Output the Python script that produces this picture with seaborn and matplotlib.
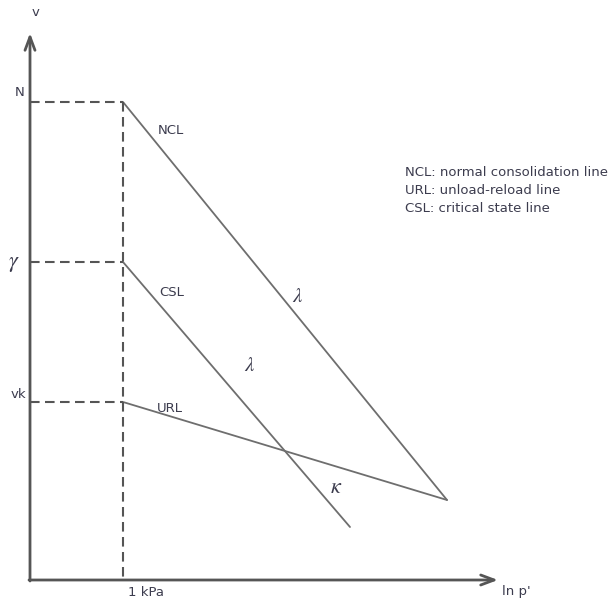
import matplotlib
matplotlib.use("Agg")
import matplotlib.pyplot as plt
import seaborn as sns
import pandas as pd

sns.set_theme(style="white")
plt.rcParams['font.family'] = ['DejaVu Sans']
plt.rcParams['mathtext.fontset'] = 'stix'

# Schematic coordinates (x: ln p', y: v as drawn, y grows downward)
line_names = ["NCL", "CSL", "URL"]
line_x0 = [123, 123, 123]
line_y0 = [102, 262, 402]
line_x1 = [447, 350, 447]
line_y1 = [500, 527, 500]

level_labels = ["N", r"$\gamma$", "vk"]
level_y = [102, 262, 402]
ref_x = 123          # 1 kPa
origin = (30, 580)
axis_end_x = 498
axis_end_y = 33

legend_lines = ["NCL: normal consolidation line",
                "URL: unload-reload line",
                "CSL: critical state line"]

fig = plt.figure(figsize=(6.16, 6.03), dpi=100)
ax = fig.add_axes([0, 0, 1, 1])
ax.set_xlim(0, 616)
ax.set_ylim(603, 0)
ax.axis("off")

lc = "#6e6e6e"
tc = "#3c3c4e"
dc = "#555555"

rows = []
for n, a, b, c, d in zip(line_names, line_x0, line_y0, line_x1, line_y1):
    rows.append(dict(name=n, x=a, y=b))
    rows.append(dict(name=n, x=c, y=d))
df = pd.DataFrame(rows)
sns.lineplot(data=df, x="x", y="y", units="name", estimator=None, sort=False,
             color=lc, lw=1.3, ax=ax, legend=False)

# dashed reference lines
dash = (0, (4.6, 2.6))
for yv in level_y:
    ax.plot([origin[0], ref_x], [yv, yv], color=dc, lw=1.5, ls=dash)
ax.plot([ref_x, ref_x], [min(level_y), origin[1]], color=dc, lw=1.5, ls=dash)

# axes with arrows
ax.annotate("", xy=(origin[0], axis_end_y), xytext=(origin[0], origin[1] + 1),
            arrowprops=dict(arrowstyle="->,head_length=0.8,head_width=0.3", color=dc, lw=2,
                            shrinkA=0, shrinkB=0))
ax.annotate("", xy=(axis_end_x, origin[1]), xytext=(origin[0] - 1, origin[1]),
            arrowprops=dict(arrowstyle="->,head_length=0.8,head_width=0.3", color=dc, lw=2,
                            shrinkA=0, shrinkB=0))

fs = 9.5
ax.text(36, 12, "v", fontsize=fs, color=tc, ha="center", va="center")
ax.text(502, 592, "ln p'", fontsize=fs, color=tc, ha="left", va="center")
ax.text(146, 593, "1 kPa", fontsize=fs, color=tc, ha="center", va="center")
ax.text(20, 92, "N", fontsize=fs, color=tc, ha="center", va="center")
ax.text(14, 264, level_labels[1], fontsize=16, color=tc, ha="center", va="center")
ax.text(18, 394, "vk", fontsize=fs, color=tc, ha="center", va="center")

ax.text(171, 131, "NCL", fontsize=fs, color=tc, ha="center", va="center")
ax.text(172, 293, "CSL", fontsize=fs, color=tc, ha="center", va="center")
ax.text(170, 409, "URL", fontsize=fs, color=tc, ha="center", va="center")

ax.text(298, 296, r"$\lambda$", fontsize=15, color=tc, ha="center", va="center")
ax.text(250, 365, r"$\lambda$", fontsize=15, color=tc, ha="center", va="center")
ax.text(336, 487, r"$\kappa$", fontsize=16, color=tc, ha="center", va="center")

for i, t in enumerate(legend_lines):
    ax.text(405, 172 + i * 18.5, t, fontsize=fs, color=tc, ha="left", va="center")

fig.savefig("out.png", dpi=100)
